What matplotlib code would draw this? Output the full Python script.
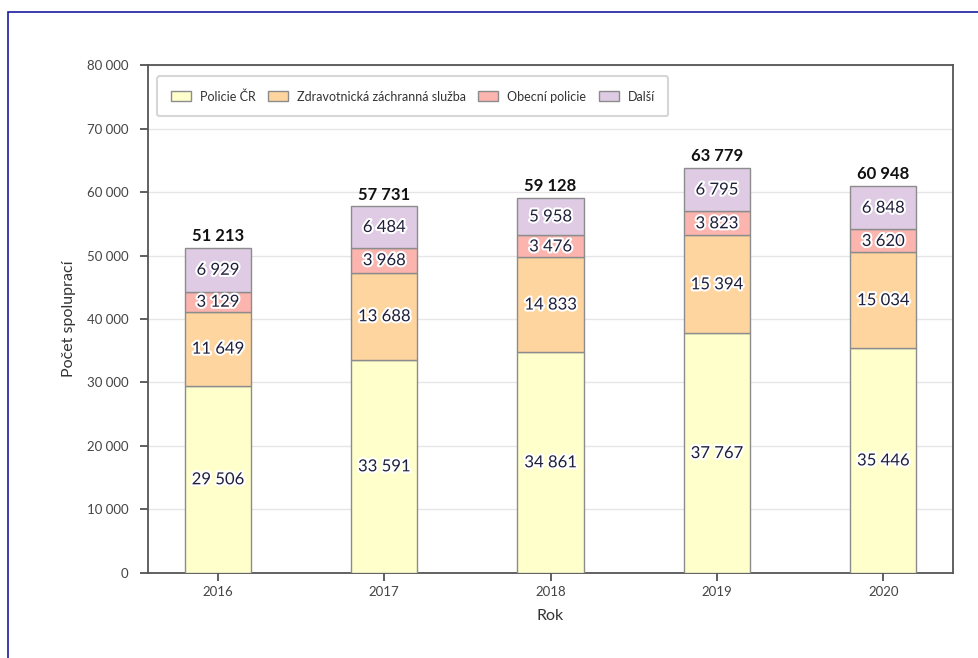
import matplotlib.pyplot as plt
import matplotlib.patheffects as pe
from matplotlib.patches import Rectangle
import numpy as np

plt.rcParams['font.family'] = ['Lato', 'DejaVu Sans']

roky = ['2016', '2017', '2018', '2019', '2020']
policie_cr = [29506, 33591, 34861, 37767, 35446]
zachranka = [11649, 13688, 14833, 15394, 15034]
obecni_policie = [3129, 3968, 3476, 3823, 3620]
dalsi = [6929, 6484, 5958, 6795, 6848]
nazvy = ['Policie ČR', 'Zdravotnická záchranná služba', 'Obecní policie', 'Další']
barvy = ['#ffffcc', '#fed59f', '#fbb4ae', '#dfcbe4']
y_ticky = [0, 10000, 20000, 30000, 40000, 50000, 60000, 70000, 80000]


def fmt(v):
    return '{:,}'.format(v).replace(',', ' ')


fig = plt.figure(figsize=(9.79, 6.58), dpi=100)
ax = fig.add_axes([0.1512, 0.1292, 0.8223, 0.772])

# modry ramecek kolem obrazku
fig.patches.append(Rectangle((8 / 979, -0.1), 1.2, 1 - 12 / 658 + 0.1,
                             transform=fig.transFigure, fill=False,
                             edgecolor='#1a1aa0', linewidth=1.2))

x = np.arange(len(roky))
serie = [policie_cr, zachranka, obecni_policie, dalsi]
spodek = np.zeros(len(roky))
halo = [pe.withStroke(linewidth=3, foreground='white')]
for hodnoty, nazev, barva in zip(serie, nazvy, barvy):
    ax.bar(x, hodnoty, 0.4, bottom=spodek, color=barva, edgecolor='#8c8c8c',
           linewidth=1, label=nazev, zorder=3)
    for xi, b, v in zip(x, spodek, hodnoty):
        ax.text(xi, b + v / 2, fmt(v), ha='center', va='center', fontsize=12,
                color='#1f1f3a', path_effects=halo, zorder=4)
    spodek = spodek + np.array(hodnoty)

for xi, total in zip(x, spodek):
    ax.text(xi, total + 600, fmt(int(total)), ha='center', va='bottom',
            fontsize=12, fontweight='bold', color='#111111', zorder=4)

ax.set_xlim(-0.42, 4.42)
ax.set_ylim(0, 80000)
ax.set_xticks(x)
ax.set_xticklabels(roky)
ax.set_yticks(y_ticky)
ax.set_yticklabels([fmt(t) for t in y_ticky])
ax.tick_params(axis='both', colors='#444444', labelsize=9.5, length=6, width=1.2)
ax.tick_params(axis='y', pad=8)
ax.grid(axis='y', color='#e6e6e6', linewidth=1, zorder=0)
ax.set_axisbelow(True)
for s in ax.spines.values():
    s.set_color('#555555')
    s.set_linewidth(1.3)

ax.set_xlabel('Rok', fontsize=11.5, color='#333333', labelpad=8)
ax.set_ylabel('Počet spoluprací', fontsize=11.5, color='#333333', labelpad=8)

leg = ax.legend(loc='upper left', ncol=4, fontsize=9, frameon=True,
                fancybox=True, edgecolor='#cccccc', borderpad=1.1,
                handlelength=1.6, handleheight=0.8, handletextpad=0.7,
                columnspacing=1.0, bbox_to_anchor=(0.004, 0.99))
leg.get_frame().set_linewidth(1.5)
for t in leg.get_texts():
    t.set_color('#333333')

fig.savefig('out.png', dpi=100)
